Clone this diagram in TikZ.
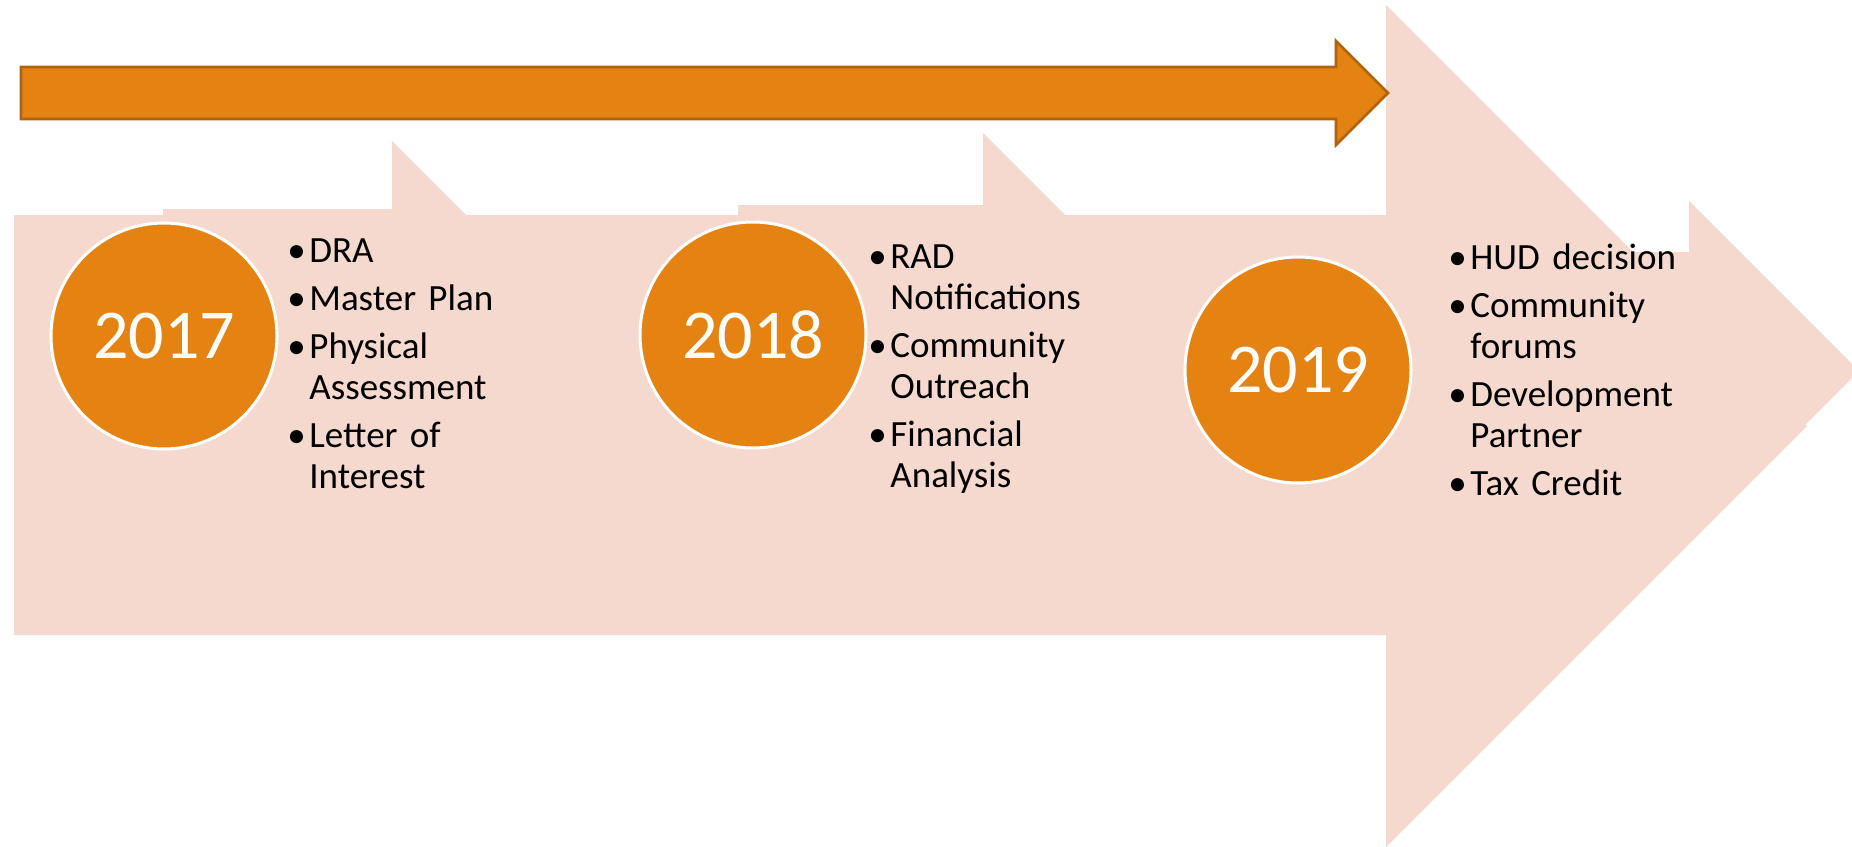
\documentclass[tikz,border=0pt]{standalone}
\usepackage{fontspec}
\setmainfont{Carlito}
\usepackage{tikz}
\usetikzlibrary{positioning}

\definecolor{peach}{HTML}{F5D9CE}
\definecolor{amber}{HTML}{E48312}
\definecolor{rust}{HTML}{B1620C}

% one bullet item, continuation lines hang under the text
\newcommand{\bitem}[1]{\hangindent=11pt\hangafter=1\makebox[11pt][l]{\textbullet}#1\par\vskip3.5pt\relax}

\begin{document}
\begin{tikzpicture}[x=0.5pt,y=-0.5pt]

      \useasboundingbox (0,0) rectangle (1852,846);
      \clip (0,0) rectangle (1852,846);

      % tabs behind the big arrow
      \begin{scope}[fill=peach]
        \fill (163,209) -- (392,209) -- (392,141) -- (586,335) -- (392,529) -- (392,461) -- (163,461) -- cycle;
        \fill (738,205) -- (983,205) -- (983,133) -- (1185,335) -- (983,537) -- (983,465) -- (738,465) -- cycle;
        \fill (1250,252) -- (1689,252) -- (1689,201) -- (1859,371) -- (1689,541) -- (1689,490) -- (1250,490) -- cycle;
      \end{scope}

      % big arrow
      \fill[peach] (14,215) -- (1386,215) -- (1386,5) -- (1807,426) -- (1386,847) -- (1386,635) -- (14,635) -- cycle;

      % time arrow
      \filldraw[fill=amber,draw=rust,line width=1.3pt]
        (21,67) -- (1336,67) -- (1336,41) -- (1388,93) -- (1336,145) -- (1336,119) -- (21,119) -- cycle;

      \begin{scope}[every node/.style={circle,fill=amber,draw=white,line width=1.5pt,
          minimum size=113pt,inner sep=0pt,text=white,font=\fontsize{35}{40}\selectfont}]
        \node (y17) at (164,336) {2017};
        \node (y18) at (753,335) {2018};
        \node (y19) at (1298,370) {2019};
      \end{scope}

      \begin{scope}[every node/.style={anchor=base west,inner sep=0pt,text width=140pt,
          font=\fontsize{18.5}{20.5}\selectfont}]
        \node (l17) at (287,262) {\bitem{DRA}\bitem{Master Plan}\bitem{Physical\newline Assessment}\bitem{Letter of\newline Interest}};
        \node (l18) at (868,268) {\bitem{RAD\newline Notifications}\bitem{Community\newline Outreach}\bitem{Financial\newline Analysis}};
        \node (l19) at (1448,269) {\bitem{HUD decision}\bitem{Community\newline forums}\bitem{Development\newline Partner}\bitem{Tax Credit}};
      \end{scope}

    \end{tikzpicture}
\end{document}
